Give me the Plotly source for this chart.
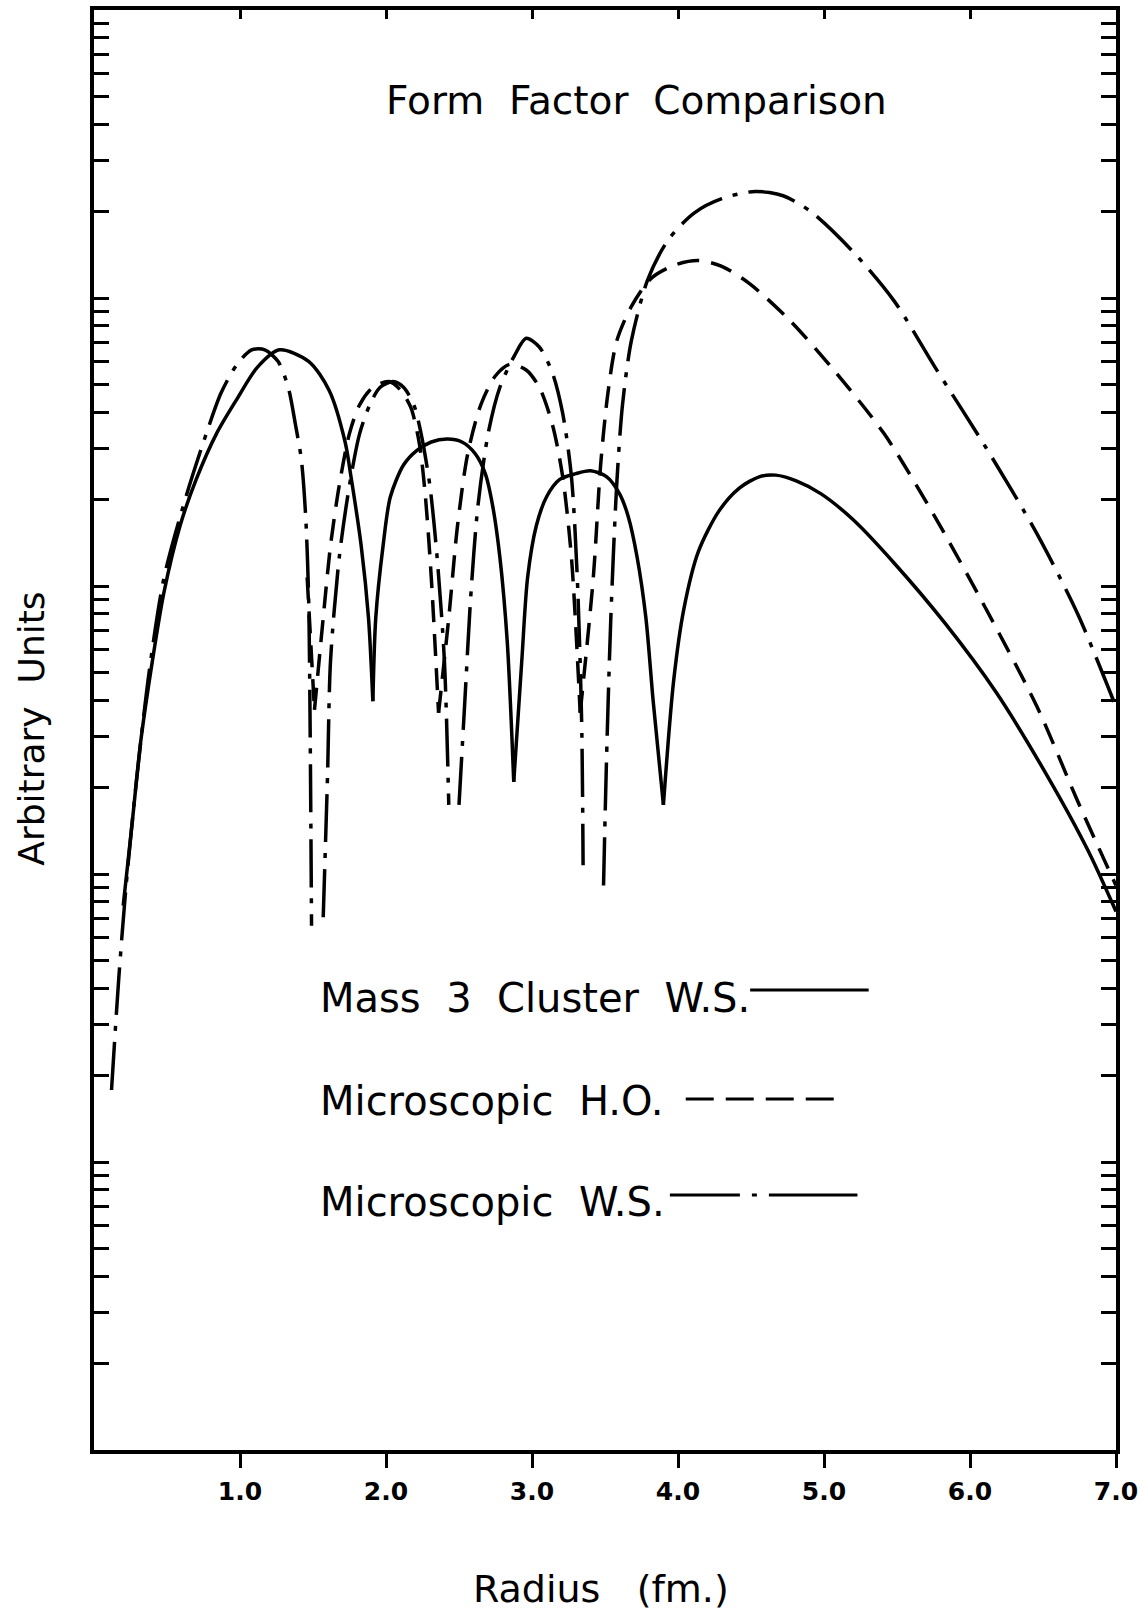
import plotly.graph_objects as go

# ---------------- data ----------------
# radius in fm; amplitude given as log10(arbitrary units); None = break at a node
solid_r = [0.20, 0.26, 0.32, 0.40, 0.48, 0.59, 0.70, 0.84, 0.98, 1.12, 1.27, 1.47, 1.61, 1.72, 1.76, 1.83, 1.88, 1.91, None,
           1.91, 1.93, 1.98, 2.03, 2.12, 2.21, 2.31, 2.42, 2.52, 2.61, 2.68, 2.73, 2.78, 2.83, 2.875, None,
           2.875, 2.93, 2.97, 3.03, 3.10, 3.19, 3.30, 3.40, 3.51, 3.60, 3.66, 3.72, 3.78, 3.83, 3.90, None,
           3.90, 3.97, 4.04, 4.14, 4.28, 4.42, 4.56, 4.67, 4.81, 4.98, 5.20, 5.48, 5.83, 6.18, 6.53, 6.81, 7.00]
solid_log = [1.89, 2.17, 2.46, 2.74, 2.98, 3.21, 3.37, 3.53, 3.65, 3.76, 3.82, 3.78, 3.68, 3.50, 3.38, 3.14, 2.89, 2.60, None,
             2.60, 2.89, 3.14, 3.31, 3.42, 3.47, 3.50, 3.51, 3.50, 3.46, 3.39, 3.28, 3.10, 2.81, 2.32, None,
             2.32, 2.74, 3.03, 3.21, 3.31, 3.37, 3.39, 3.40, 3.38, 3.32, 3.24, 3.10, 2.89, 2.60, 2.24, None,
             2.24, 2.67, 2.92, 3.12, 3.26, 3.34, 3.38, 3.385, 3.365, 3.32, 3.23, 3.08, 2.87, 2.63, 2.34, 2.08, 1.87]

ho_r = [1.46, 1.51, None,
        1.51, 1.57, 1.62, 1.68, 1.75, 1.82, 1.91, 2.02, 2.10, 2.17, 2.23, 2.27, 2.31, 2.36, None,
        2.36, 2.43, 2.49, 2.56, 2.65, 2.75, 2.85, 2.96, 3.05, 3.14, 3.21, 3.27, 3.33, None,
        3.33, 3.42, 3.47, 3.52, 3.58, 3.68, 3.82, 3.98, 4.14, 4.30, 4.49, 4.77, 5.05, 5.41, 5.76, 6.11, 6.46, 6.74, 7.00]
ho_log = [3.03, 2.57, None,
          2.57, 2.89, 3.14, 3.35, 3.53, 3.63, 3.69, 3.71, 3.68, 3.62, 3.49, 3.31, 3.03, 2.56, None,
          2.56, 2.89, 3.21, 3.46, 3.63, 3.73, 3.77, 3.75, 3.69, 3.56, 3.38, 3.10, 2.56, None,
          2.56, 3.03, 3.42, 3.67, 3.85, 3.97, 4.07, 4.115, 4.13, 4.11, 4.05, 3.92, 3.76, 3.53, 3.24, 2.92, 2.58, 2.25, 1.96]

ws_r = [0.12, 0.17, 0.22, 0.29, 0.38, 0.48, 0.63, 0.77, 0.87, 0.98, 1.08, 1.17, 1.26, 1.33, 1.38, 1.42, 1.45, 1.47, 1.48, 1.49, None,
        1.57, 1.60, 1.62, 1.68, 1.75, 1.82, 1.89, 1.96, 2.05, 2.12, 2.19, 2.24, 2.30, 2.35, 2.40, 2.43, None,
        2.50, 2.54, 2.58, 2.63, 2.70, 2.78, 2.88, 2.96, 3.05, 3.14, 3.21, 3.27, 3.31, 3.34, 3.35, None,
        3.49, 3.51, 3.54, 3.58, 3.62, 3.68, 3.79, 3.93, 4.11, 4.30, 4.53, 4.72, 4.91, 5.20, 5.48, 5.76, 6.11, 6.46, 6.74, 7.00]
ws_log = [1.25, 1.64, 1.96, 2.32, 2.71, 3.03, 3.31, 3.53, 3.67, 3.77, 3.82, 3.82, 3.78, 3.69, 3.56, 3.44, 3.24, 2.96, 2.53, 1.82, None,
          1.85, 2.35, 2.74, 3.10, 3.35, 3.53, 3.63, 3.69, 3.71, 3.69, 3.63, 3.53, 3.35, 3.10, 2.74, 2.24, None,
          2.24, 2.60, 2.96, 3.28, 3.53, 3.69, 3.80, 3.86, 3.83, 3.74, 3.60, 3.38, 3.03, 2.53, 2.03, None,
          1.96, 2.39, 2.89, 3.35, 3.63, 3.85, 4.06, 4.20, 4.295, 4.345, 4.37, 4.355, 4.30, 4.16, 3.99, 3.76, 3.48, 3.18, 2.90, 2.58]

x_ticks = [1, 2, 3, 4, 5, 6, 7]
x_tick_labels = ["1.0", "2.0", "3.0", "4.0", "5.0", "6.0", "7.0"]
legend_names = ["Mass&nbsp;&nbsp;3&nbsp;&nbsp;Cluster&nbsp;&nbsp;W.S.",
                "Microscopic&nbsp;&nbsp;H.O.",
                "Microscopic&nbsp;&nbsp;W.S."]


def to_units(logs):
    return [None if v is None else 10 ** v for v in logs]


FONT = "DejaVu Sans"
INK = "black"
LW = 3.5

fig = go.Figure()
fig.add_trace(go.Scatter(x=solid_r, y=to_units(solid_log), mode="lines",
                         line=dict(color=INK, width=LW, shape="spline", smoothing=0.8),
                         connectgaps=False, showlegend=False))
fig.add_trace(go.Scatter(x=ho_r, y=to_units(ho_log), mode="lines",
                         line=dict(color=INK, width=LW, dash="22px,12px", shape="spline", smoothing=0.8),
                         connectgaps=False, showlegend=False))
fig.add_trace(go.Scatter(x=ws_r, y=to_units(ws_log), mode="lines",
                         line=dict(color=INK, width=LW, dash="48px,11px,5px,11px", shape="spline", smoothing=0.8),
                         connectgaps=False, showlegend=False))
# empty trace so that the mirrored top axis (inward ticks) is drawn
fig.add_trace(go.Scatter(x=[], y=[], xaxis="x2", yaxis="y", showlegend=False, hoverinfo="skip"))

fig.update_layout(
    width=1148, height=1613,
    margin=dict(l=94, r=30, t=10, b=163),
    paper_bgcolor="white", plot_bgcolor="white",
    font=dict(family=FONT, color=INK),
    showlegend=False,
    xaxis=dict(range=[0, 7], tickvals=x_ticks, ticktext=x_tick_labels,
               ticks="outside", ticklen=14, tickwidth=3, tickcolor=INK,
               tickfont=dict(size=25, family=FONT, weight="bold"), ticklabelstandoff=2,
               showline=True, linewidth=4, linecolor=INK, showgrid=False, zeroline=False),
    xaxis2=dict(range=[0, 7], tickvals=x_ticks, overlaying="x", side="top", anchor="y",
                ticks="inside", ticklen=9, tickwidth=3, tickcolor=INK, showticklabels=False,
                showline=True, linewidth=4, linecolor=INK, showgrid=False, zeroline=False),
    yaxis=dict(type="log", range=[0, 5], dtick="D1", showticklabels=False,
               ticks="inside", ticklen=15, tickwidth=3, tickcolor=INK, mirror="ticks",
               showline=True, linewidth=4, linecolor=INK, showgrid=False, zeroline=False),
)

annotations = [
    dict(text="Form&nbsp;&nbsp;Factor&nbsp;&nbsp;Comparison", x=0.531, y=0.9375, xref="paper", yref="paper",
         xanchor="center", yanchor="middle", showarrow=False, font=dict(size=39, family=FONT)),
    dict(text="Radius&nbsp;&nbsp;&nbsp;(fm.)", x=0.496, y=-0.0965, xref="paper", yref="paper",
         xanchor="center", yanchor="middle", showarrow=False, font=dict(size=38, family=FONT)),
    dict(text="Arbitrary&nbsp;&nbsp;Units", x=-0.0615, y=0.501, xref="paper", yref="paper", textangle=-90,
         xanchor="center", yanchor="middle", showarrow=False, font=dict(size=36, family=FONT)),
]
legend_y = [0.3139, 0.2424, 0.1722]
for name, yy in zip(legend_names, legend_y):
    annotations.append(dict(text=name, x=0.2187, y=yy, xref="paper", yref="paper",
                            xanchor="left", yanchor="middle", showarrow=False,
                            font=dict(size=40, family=FONT)))
fig.update_layout(annotations=annotations)

shapes = [
    dict(type="line", xref="paper", yref="paper", x0=0.642, x1=0.758, y0=0.3194, y1=0.3194,
         line=dict(color=INK, width=3)),
    dict(type="line", xref="paper", yref="paper", x0=0.579, x1=0.724, y0=0.2438, y1=0.2438,
         line=dict(color=INK, width=3, dash="28px,12px")),
    dict(type="line", xref="paper", yref="paper", x0=0.5635, x1=0.747, y0=0.1771, y1=0.1771,
         line=dict(color=INK, width=3, dash="70px,12px,5px,12px,300px")),
]
fig.update_layout(shapes=shapes)

fig.write_html("out.html")
